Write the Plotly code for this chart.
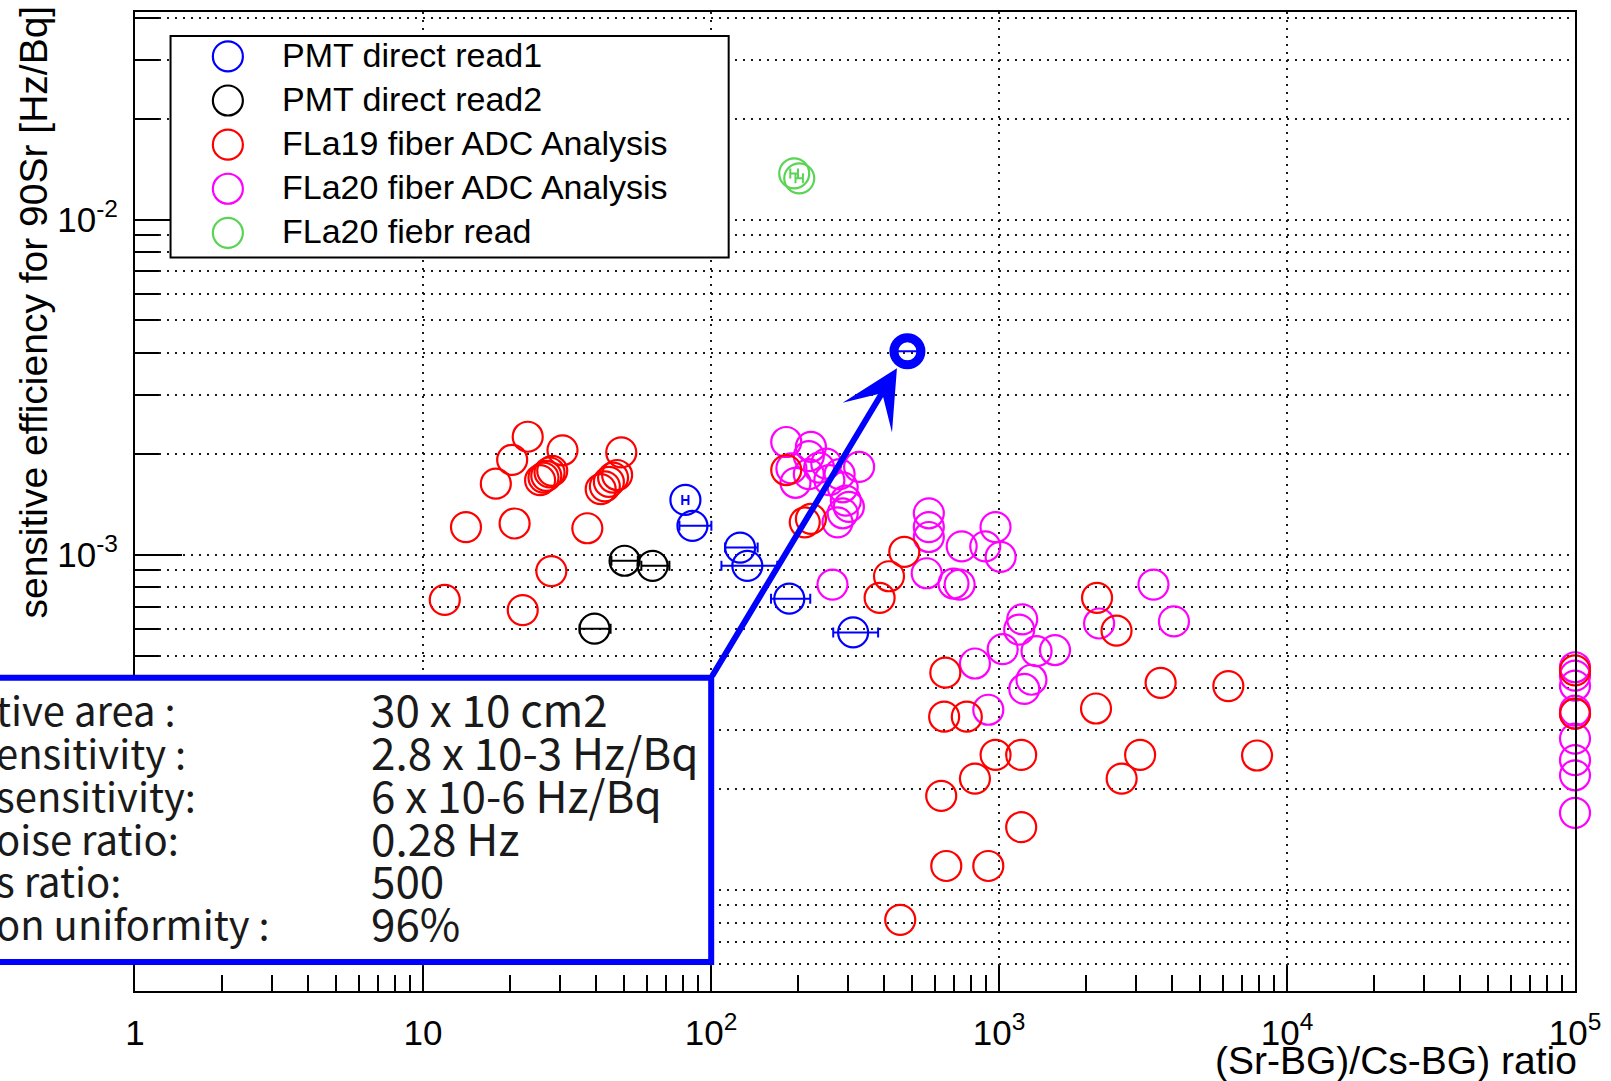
import numpy as np
import plotly.graph_objects as go

# ---------------- data ----------------
series_names = ["PMT direct read1", "PMT direct read2", "FLa19 fiber ADC Analysis",
                "FLa20 fiber ADC Analysis", "FLa20 fiebr read"]

blue_x = [81.5, 86.2, 126.2, 133.7, 187.0, 311.5]
blue_y = [1.458e-3, 1.220e-3, 1.051e-3, 9.27e-4, 7.40e-4, 5.87e-4]
blue_xerr_plus = [2.0, 14.1, 19.0, 36.2, 34.1, 68.9]
blue_xerr_minus = [2.0, 8.5, 14.3, 25.0, 25.4, 45.8]

black_x = [50.1, 62.7, 39.4]
black_y = [9.60e-4, 9.27e-4, 6.02e-4]
black_xerr_plus = [5.6, 9.0, 5.4]
black_xerr_minus = [5.0, 5.4, 4.4]

red_x = [23.1, 20.4, 30.5, 48.8, 17.9,
         25.5, 26.2, 26.8, 27.5, 28.1,
         41.4, 42.8, 44.2, 45.7, 47.2,
         14.1, 20.8, 37.2, 27.9, 11.9, 22.2,
         182.5, 211.6, 222.3, 469, 415, 385,
         651, 645, 773, 973, 1194, 825, 630, 1194, 656, 918, 454,
         2190, 2559, 3641, 6256, 2172, 3090, 2666, 7870,
         1e5, 1e5]
red_y = [2.25e-3, 1.92e-3, 2.05e-3, 2.02e-3, 1.63e-3,
         1.67e-3, 1.70e-3, 1.72e-3, 1.76e-3, 1.78e-3,
         1.57e-3, 1.60e-3, 1.65e-3, 1.70e-3, 1.73e-3,
         1.21e-3, 1.24e-3, 1.20e-3, 8.94e-4, 7.34e-4, 6.84e-4,
         1.79e-3, 1.25e-3, 1.28e-3, 1.02e-3, 8.63e-4, 7.44e-4,
         4.45e-4, 3.29e-4, 3.29e-4, 2.53e-4, 2.53e-4, 2.15e-4, 1.91e-4, 1.54e-4, 1.18e-4, 1.18e-4, 8.15e-5,
         7.44e-4, 5.94e-4, 4.15e-4, 4.06e-4, 3.48e-4, 2.53e-4, 2.15e-4, 2.52e-4,
         4.52e-4, 3.36e-4]

magenta_x = [182.5, 222.3, 218.6, 190.2, 218.6, 196.5, 251.4, 237.3, 257.6, 279.6,
             326.8, 286.6, 293.8, 301.1, 286.6, 275.0, 264.1,
             570.6, 570.6, 570.6, 742, 972.5, 896, 1013, 561, 695, 730,
             3438, 4050, 2226, 1204, 1175, 1030, 1350, 1565, 825, 1296, 1224, 918,
             1e5, 1e5, 1e5, 1e5, 1e5, 1e5, 1e5, 1e5, 1e5]
magenta_y = [2.17e-3, 2.10e-3, 1.97e-3, 1.81e-3, 1.74e-3, 1.64e-3, 1.87e-3, 1.82e-3, 1.67e-3, 1.74e-3,
             1.83e-3, 1.59e-3, 1.45e-3, 1.39e-3, 1.33e-3, 1.25e-3, 8.15e-4,
             1.33e-3, 1.21e-3, 1.13e-3, 1.06e-3, 1.21e-3, 1.06e-3, 9.86e-4, 8.81e-4, 8.21e-4, 8.15e-4,
             8.15e-4, 6.33e-4, 6.24e-4, 6.42e-4, 5.98e-4, 5.23e-4, 5.16e-4, 5.20e-4, 4.74e-4, 4.24e-4, 3.98e-4, 3.45e-4,
             4.62e-4, 4.36e-4, 4.07e-4, 3.43e-4, 3.36e-4, 2.83e-4, 2.44e-4, 2.20e-4, 1.70e-4]

green_x = [194.5, 202.5]
green_y = [1.373e-2, 1.327e-2]
green_xerr = [6.0, 6.0]

highlight_x = [480.8]
highlight_y = [4.046e-3]
highlight_xerr_plus = [64.0]
highlight_xerr_minus = [52.0]

arrow_tip = (442.2, 3.60e-3)
arrow_tail = (100.2, 4.305e-4)

x_tick_vals = [1, 10, 100, 1000, 1e4, 1e5]
x_tick_text = ["1", "10", "10<sup>2</sup>", "10<sup>3</sup>", "10<sup>4</sup>", "10<sup>5</sup>"]
y_tick_vals = [1e-4, 1e-3, 1e-2]
y_tick_text = ["", "10<sup>-3</sup>", "10<sup>-2</sup>"]

box_labels = ["tive area :", "ensitivity :", "sensitivity:", "oise ratio:", "s ratio:", "on uniformity :"]
box_values = ["30 x 10 cm2", "2.8 x 10-3 Hz/Bq", "6 x 10-6 Hz/Bq", "0.28 Hz", "500", "96%"]

x_title = "(Sr-BG)/Cs-BG) ratio"
y_title = "sensitive efficiency for 90Sr [Hz/Bq]"

# ---------------- styling ----------------
C_BLUE, C_BLACK, C_RED, C_MAG, C_GREEN = "#0000ff", "#000000", "#ff0000", "#ff00ff", "#59d454"
series_colors = [C_BLUE, C_BLACK, C_RED, C_MAG, C_GREEN]

W, H = 1611, 1081
ML, MR, MT, MB = 135, 34, 10, 90
PW, PH = W - ML - MR, H - MT - MB
X_RANGE = [0, 5]
Y_RANGE = [-4.301, -1.381]


def px2paper_x(px):
    return (px - ML) / PW


def px2paper_y(py):
    return (H - MB - py) / PH


MS = 30
MLW = 2.2

x_minor = [m * 10 ** e for e in range(0, 5) for m in range(2, 10)]
y_minor = [m * 10 ** e for e in range(-5, -1) for m in range(2, 10)
           if Y_RANGE[0] <= np.log10(m * 10 ** e) <= Y_RANGE[1]]

GRID = dict(gridcolor="#1a1a1a", gridwidth=1.6, griddash="2px,6px")
SANS = "Liberation Sans, Arial, sans-serif"
TICKFONT = dict(family=SANS, size=35, color="black")
BOXFONT = "Noto Sans CJK JP"

fig = go.Figure()


def add_series(x, y, color, ep=None, em=None, size=MS, lw=MLW):
    tr = dict(x=x, y=y, mode="markers", cliponaxis=False, showlegend=False,
              marker=dict(symbol="circle-open", size=size, color=color, line=dict(width=lw, color=color)),
              xaxis="x", yaxis="y", hoverinfo="x+y")
    if ep is not None:
        tr["error_x"] = dict(type="data", symmetric=False, array=ep, arrayminus=em,
                             color=color, thickness=2, width=5)
    fig.add_trace(go.Scatter(**tr))


add_series(magenta_x, magenta_y, C_MAG)
add_series(red_x, red_y, C_RED)
add_series(black_x, black_y, C_BLACK, black_xerr_plus, black_xerr_minus)
add_series(blue_x, blue_y, C_BLUE, blue_xerr_plus, blue_xerr_minus)
add_series(green_x, green_y, C_GREEN, green_xerr, green_xerr)
add_series(highlight_x, highlight_y, C_BLUE, highlight_xerr_plus, highlight_xerr_minus, size=27, lw=9)

# legend drawn as an inset panel (big markers like the original)
LEG = dict(x0=170.6, x1=729.5, y0=34, y1=256)
leg_rows = list(range(len(series_names)))
row_h = 44.2
first_row = 54.5
fig.add_trace(go.Scatter(
    x=[0.1027] * len(series_names), y=leg_rows, mode="markers", xaxis="x2", yaxis="y2",
    showlegend=False, hoverinfo="skip",
    marker=dict(symbol="circle-open", size=MS, color=series_colors, line=dict(width=MLW, color=series_colors))))

annotations = []
for i, name in enumerate(series_names):
    annotations.append(dict(xref="paper", yref="paper", x=px2paper_x(280),
                            y=px2paper_y(first_row - 1.5 + i * row_h), text=name, showarrow=False,
                            xanchor="left", yanchor="middle",
                            font=dict(family=SANS, size=34, color="black")))

# axis titles
annotations.append(dict(xref="paper", yref="paper", x=px2paper_x(1581), y=px2paper_y(1061), text=x_title,
                        showarrow=False, xanchor="right", yanchor="middle",
                        font=dict(family=SANS, size=39, color="black")))
annotations.append(dict(xref="paper", yref="paper", x=px2paper_x(33), y=px2paper_y(311), text=y_title,
                        showarrow=False, xanchor="center", yanchor="middle", textangle=-90,
                        font=dict(family=SANS, size=39, color="black")))

# info box texts
row_y = [707, 751, 794, 837, 879, 922]
for lab, val, yy in zip(box_labels, box_values, row_y):
    annotations.append(dict(xref="paper", yref="paper", x=px2paper_x(-6), y=px2paper_y(yy + 1), text=lab,
                            showarrow=False, xanchor="left", yanchor="middle",
                            font=dict(family=BOXFONT, size=40, color="#1a1a1a")))
    annotations.append(dict(xref="paper", yref="paper", x=px2paper_x(369), y=px2paper_y(yy), text=val,
                            showarrow=False, xanchor="left", yanchor="middle",
                            font=dict(family=BOXFONT, size=44, color="#1a1a1a")))

# arrow
annotations.append(dict(xref="x", yref="y", axref="x", ayref="y",
                        x=np.log10(arrow_tip[0]), y=np.log10(arrow_tip[1]),
                        ax=np.log10(arrow_tail[0]), ay=np.log10(arrow_tail[1]),
                        text="", showarrow=True, arrowhead=3, arrowsize=1.6, arrowwidth=6,
                        arrowcolor=C_BLUE, standoff=0))

shapes = [
    dict(type="rect", xref="paper", yref="paper", layer="above",
         x0=px2paper_x(LEG["x0"]), x1=px2paper_x(LEG["x1"]),
         y0=px2paper_y(LEG["y1"]), y1=px2paper_y(LEG["y0"]),
         line=dict(color="black", width=2), fillcolor="rgba(0,0,0,0)"),
    dict(type="rect", xref="paper", yref="paper", layer="above",
         x0=px2paper_x(-60), x1=px2paper_x(712),
         y0=px2paper_y(962), y1=px2paper_y(677),
         line=dict(color=C_BLUE, width=6), fillcolor="white"),
]

fig.update_layout(
    width=W, height=H, margin=dict(l=ML, r=MR, t=MT, b=MB),
    paper_bgcolor="white", plot_bgcolor="white", showlegend=False,
    xaxis=dict(type="log", range=X_RANGE, domain=[0, 1], anchor="y",
               tickmode="array", tickvals=x_tick_vals, ticktext=x_tick_text,
               ticks="inside", ticklen=25, tickwidth=2, tickcolor="black",
               showline=True, linewidth=2, linecolor="black", mirror=True,
               showgrid=True, zeroline=False, tickfont=TICKFONT, ticklabelstandoff=10,
               minor=dict(tickmode="array", tickvals=x_minor, ticks="inside", ticklen=16,
                          tickwidth=2, tickcolor="black", showgrid=False),
               **GRID),
    yaxis=dict(type="log", range=Y_RANGE, domain=[0, 1], anchor="x",
               tickmode="array", tickvals=y_tick_vals, ticktext=y_tick_text,
               ticks="inside", ticklen=47, tickwidth=2, tickcolor="black",
               showline=True, linewidth=2, linecolor="black", mirror=True,
               showgrid=True, zeroline=False, tickfont=TICKFONT, ticklabelstandoff=8,
               minor=dict(tickmode="array", tickvals=y_minor, ticks="inside", ticklen=24,
                          tickwidth=2, tickcolor="black", showgrid=True, **GRID),
               **GRID),
    xaxis2=dict(domain=[px2paper_x(LEG["x0"]), px2paper_x(LEG["x1"])], range=[0, 1], anchor="y2",
                showgrid=False, zeroline=False, showticklabels=False, showline=False, ticks="",
                fixedrange=True),
    yaxis2=dict(domain=[px2paper_y(LEG["y1"]), px2paper_y(LEG["y0"])],
                range=[(LEG["y1"] - first_row) / row_h, -(first_row - LEG["y0"]) / row_h], anchor="x2",
                showgrid=False, zeroline=False, showticklabels=False, showline=False, ticks="",
                fixedrange=True),
    annotations=annotations,
    shapes=shapes,
)

fig.write_html("out.html", config={"displayModeBar": False},
               post_script="document.body.style.margin='0px';")
